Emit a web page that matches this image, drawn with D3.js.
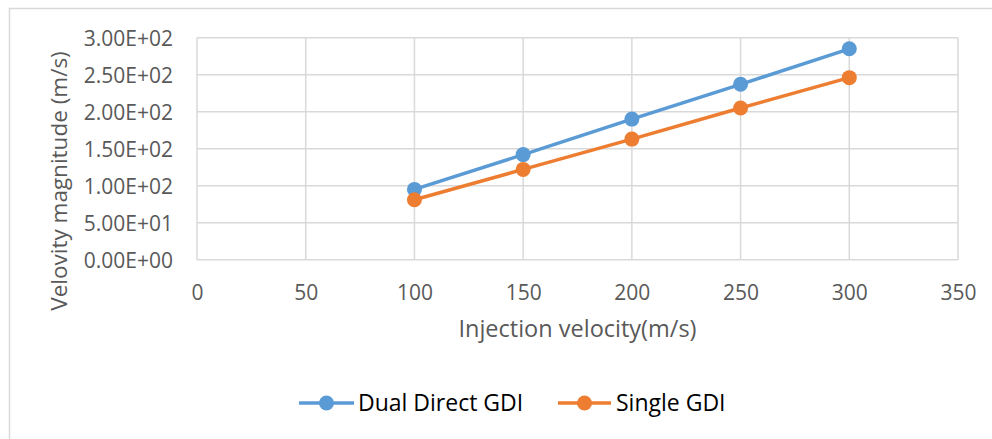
<!DOCTYPE html>
<html>
<head>
<meta charset="utf-8">
<script src="https://cdn.jsdelivr.net/npm/d3@7"></script>
<style>
  html, body { margin: 0; padding: 0; background: #fff; }
  svg { display: block; }
  text { font-family: "Open Sans", sans-serif; }
</style>
</head>
<body>
<svg id="chart" width="992" height="439"></svg>
<script>
// Injection velocity (m/s)
const injection = [100, 150, 200, 250, 300];
// Velocity magnitude (m/s) for each injector layout
const dualDirect = [95, 142, 190, 237, 285];
const singleGdi = [81, 122, 163, 205, 246];

const seriesNames = ["Dual Direct GDI", "Single GDI"];
const seriesColors = ["#5b9bd5", "#ed7d31"];

const xTicks = [0, 50, 100, 150, 200, 250, 300, 350];
const yTicks = [0, 50, 100, 150, 200, 250, 300];

const xTitle = "Injection velocity(m/s)";
const yTitle = "Velovity magnitude (m/s)";

const W = 992, H = 439;
const plot = { left: 197, right: 958, top: 37.7, bottom: 259.7 };

const svg = d3.select("#chart");

// outer chart frame
svg.append("rect")
  .attr("x", 9.5).attr("y", 8.5)
  .attr("width", 1000).attr("height", 500)
  .attr("fill", "none").attr("stroke", "#d9d9d9").attr("stroke-width", 1.5);

const x = d3.scaleLinear().domain([0, 350]).range([plot.left, plot.right]);
const y = d3.scaleLinear().domain([0, 300]).range([plot.bottom, plot.top]);

// scientific label like 1.50E+02
function sci(v) {
  if (v === 0) return "0.00E+00";
  const e = Math.floor(Math.log10(Math.abs(v)));
  const m = v / Math.pow(10, e);
  const sign = e < 0 ? "-" : "+";
  return m.toFixed(2) + "E" + sign + String(Math.abs(e)).padStart(2, "0");
}

// gridlines
const grid = svg.append("g");
grid.selectAll("line.h").data(yTicks).join("line")
  .attr("x1", plot.left).attr("x2", plot.right)
  .attr("y1", d => y(d)).attr("y2", d => y(d))
  .attr("stroke", "#d9d9d9").attr("stroke-width", 1.5);
grid.selectAll("line.v").data(xTicks).join("line")
  .attr("x1", d => x(d)).attr("x2", d => x(d))
  .attr("y1", plot.top).attr("y2", plot.bottom)
  .attr("stroke", "#d9d9d9").attr("stroke-width", 1.5);

// axes (labels only; lines come from the grid)
const xAxis = d3.axisBottom(x).tickValues(xTicks).tickSize(0).tickPadding(0).tickFormat(d3.format("d"));
const gx = svg.append("g").attr("transform", `translate(0,${plot.bottom})`).call(xAxis);
gx.select(".domain").remove();
gx.selectAll("text")
  .attr("y", 40).attr("dy", null)
  .attr("fill", "#595959").style("font-size", "21px")
  .style("font-family", "'Open Sans', sans-serif");

const yAxis = d3.axisLeft(y).tickValues(yTicks).tickSize(0).tickPadding(0).tickFormat(sci);
const gy = svg.append("g").attr("transform", `translate(${plot.left},0)`).call(yAxis);
gy.select(".domain").remove();
gy.selectAll("text")
  .attr("x", -24).attr("dy", "0.36em")
  .attr("fill", "#595959").style("font-size", "21px")
  .style("font-family", "'Open Sans', sans-serif");

// axis titles
svg.append("text")
  .attr("x", (plot.left + plot.right) / 2).attr("y", 337)
  .attr("text-anchor", "middle").attr("fill", "#595959")
  .style("font-size", "23.5px").text(xTitle);

svg.append("text")
  .attr("transform", "translate(67,181) rotate(-90)")
  .attr("text-anchor", "middle").attr("fill", "#595959")
  .style("font-size", "22.5px").text(yTitle);

// series
const series = [dualDirect, singleGdi];
const line = d3.line().x((d, i) => x(injection[i])).y(d => y(d));

series.forEach((vals, k) => {
  const g = svg.append("g");
  g.append("path").datum(vals)
    .attr("d", line).attr("fill", "none")
    .attr("stroke", seriesColors[k]).attr("stroke-width", 3.5)
    .attr("stroke-linejoin", "round");
  g.selectAll("circle").data(vals).join("circle")
    .attr("cx", (d, i) => x(injection[i])).attr("cy", d => y(d))
    .attr("r", 7.5).attr("fill", seriesColors[k]);
});

// legend
const legendItems = [
  { x0: 299, x1: 354, tx: 358 },
  { x0: 558, x1: 611, tx: 616 }
];
const ly = 403;
legendItems.forEach((it, k) => {
  const g = svg.append("g");
  g.append("line")
    .attr("x1", it.x0).attr("x2", it.x1).attr("y1", ly).attr("y2", ly)
    .attr("stroke", seriesColors[k]).attr("stroke-width", 3.5);
  g.append("circle")
    .attr("cx", (it.x0 + it.x1) / 2).attr("cy", ly).attr("r", 7.5)
    .attr("fill", seriesColors[k]);
  g.append("text")
    .attr("x", it.tx).attr("y", 411)
    .attr("fill", "#000").style("font-size", "23px")
    .text(seriesNames[k]);
});
</script>
</body>
</html>
